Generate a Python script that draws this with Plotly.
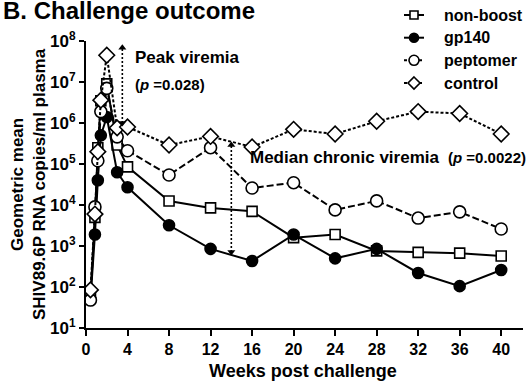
import plotly.graph_objects as go

# Sampling times (weeks post challenge) and geometric mean viral loads
weeks = [0.43, 0.86, 1.14, 1.43, 2, 3, 4, 8, 12, 16, 20, 24, 28, 32, 36, 40]
non_boost = [60, 5000, 2.5e5, 3.5e6, 9e6, 2.9e5, 8.5e4, 1.25e4, 8.5e3, 7e3,
             1.6e3, 1.9e3, 760, 700, 670, 570]
gp140 = [50, 1900, 4e4, 5e5, 1.4e6, 6.3e4, 2.7e4, 3.2e3, 850, 430,
         1.9e3, 500, 850, 220, 105, 260]
peptomer = [48, 9000, 1.2e5, 1.9e6, 7e6, 4.6e5, 2.1e5, 5.4e4, 2.5e5, 2.6e4,
            3.5e4, 7.6e3, 1.26e4, 4.8e3, 6.8e3, 2.6e3]
control = [85, 6000, 2e5, 3.6e6, 4.5e7, 7.6e5, 8e5, 2.9e5, 4.7e5, 2.6e5,
           7e5, 5.4e5, 1.1e6, 1.9e6, 1.7e6, 5.4e5]

x_ticks = [0, 4, 8, 12, 16, 20, 24, 28, 32, 36, 40]
y_exponents = [1, 2, 3, 4, 5, 6, 7, 8]

# Double-headed comparison arrows (week, [bottom, top] viral load)
peak_arrow_week = 3.5
peak_arrow_span = [1.0e6, 6.8e7]
chronic_arrow_week = 14
chronic_arrow_span = [7.1e2, 2.9e5]

FONT = "Liberation Sans, Arial, sans-serif"
W, H = 528, 384
ML, MR, MT, MB = 86, 5, 41, 56
PW, PH = W - ML - MR, H - MT - MB


def px2x(px):
    return (px - ML) / PW


def px2y(py):
    return (H - MB - py) / PH


fig = go.Figure()

series = [
    ("non-boost", non_boost, "square", "white", "solid", 10),
    ("gp140", gp140, "circle", "black", "solid", 11),
    ("peptomer", peptomer, "circle", "white", "7px,3px", 12),
    ("control", control, "diamond", "white", "3px,2px", 12),
]
for name, vals, sym, fill, dash, size in series:
    fig.add_trace(go.Scatter(
        x=weeks, y=vals, name=name, mode="lines+markers", showlegend=False,
        line=dict(color="black", width=2, dash=dash),
        marker=dict(symbol=sym, size=size, color=fill,
                    line=dict(color="black", width=1.6)),
    ))

for wk, span in [(peak_arrow_week, peak_arrow_span),
                 (chronic_arrow_week, chronic_arrow_span)]:
    fig.add_trace(go.Scatter(
        x=[wk, wk], y=span, mode="lines+markers", showlegend=False,
        hoverinfo="skip",
        line=dict(color="black", width=1.6, dash="2px,2px"),
        marker=dict(symbol=["triangle-down", "triangle-up"], size=7,
                    color="black", line=dict(width=0)),
    ))

bold = dict(family=FONT, color="black")

annotations = [
    dict(text="<b>B. Challenge outcome</b>", xref="paper", yref="paper",
         x=px2x(1), y=1.105, xanchor="left", yanchor="middle",
         showarrow=False, font=dict(size=24, **bold)),
    dict(text="<b>Peak viremia</b>", xref="paper", yref="paper",
         x=px2x(133), y=px2y(57), xanchor="left",
         yanchor="middle", showarrow=False, font=dict(size=17, **bold)),
    dict(text="<b>(<i>p</i> =0.028)</b>", xref="paper", yref="paper",
         x=px2x(133), y=px2y(84), xanchor="left",
         yanchor="middle", showarrow=False, font=dict(size=15, **bold)),
    dict(text="<b>Median chronic viremia</b>", xref="paper", yref="paper",
         x=px2x(248), y=px2y(157), xanchor="left",
         yanchor="middle", showarrow=False, font=dict(size=17, **bold)),
    dict(text="<b>(<i>p</i> =0.0022)</b>", xref="paper", yref="paper",
         x=px2x(446), y=px2y(157), xanchor="left",
         yanchor="middle", showarrow=False, font=dict(size=15, **bold)),
    dict(text="<b>Weeks post challenge</b>", xref="paper", yref="paper",
         x=0.4966, y=-0.15, xanchor="center", yanchor="middle",
         showarrow=False, font=dict(size=18, **bold)),
    dict(text="<b>Geometric mean</b><br><b>SHIV89.6P RNA copies/ml plasma</b>",
         xref="paper", yref="paper", x=px2x(28.5), y=0.5, xanchor="center",
         yanchor="middle", textangle=-90, showarrow=False,
         font=dict(size=17, **bold)),
]

# Key in the top-right corner: a short line stub with the series marker,
# followed by the series name.
shapes = []
key_rows = [15, 37.7, 60.3, 83]
stub_x0, stub_x1, sym_cx, text_x = 404, 424, 414, 442
for (name, _, sym, fill, dash, size), ry in zip(series, key_rows):
    shapes.append(dict(type="line", xref="paper", yref="paper",
                       x0=px2x(stub_x0), x1=px2x(stub_x1),
                       y0=px2y(ry), y1=px2y(ry),
                       line=dict(color="black", width=2,
                                 dash="solid" if dash == "solid" else "3px,2px")))
    r = (size - 2) / 2
    if sym == "square":
        shapes.append(dict(type="rect", xref="paper", yref="paper",
                           x0=px2x(sym_cx - r), x1=px2x(sym_cx + r),
                           y0=px2y(ry + r), y1=px2y(ry - r),
                           fillcolor=fill, line=dict(color="black", width=1.6)))
    elif sym == "circle":
        shapes.append(dict(type="circle", xref="paper", yref="paper",
                           x0=px2x(sym_cx - r), x1=px2x(sym_cx + r),
                           y0=px2y(ry + r), y1=px2y(ry - r),
                           fillcolor=fill, line=dict(color="black", width=1.6)))
    else:
        rr = r + 1
        path = (f"M {px2x(sym_cx)} {px2y(ry - rr)} L {px2x(sym_cx + rr)} {px2y(ry)} "
                f"L {px2x(sym_cx)} {px2y(ry + rr)} L {px2x(sym_cx - rr)} {px2y(ry)} Z")
        shapes.append(dict(type="path", xref="paper", yref="paper", path=path,
                           fillcolor=fill, line=dict(color="black", width=1.6)))
    annotations.append(dict(text=f"<b>{name}</b>", xref="paper", yref="paper",
                            x=px2x(text_x), y=px2y(ry), xanchor="left",
                            yanchor="middle", showarrow=False,
                            font=dict(size=16, **bold)))

fig.update_layout(
    width=W, height=H,
    margin=dict(l=ML, r=MR, t=MT, b=MB),
    paper_bgcolor="white", plot_bgcolor="white",
    font=dict(family=FONT, color="black"),
    showlegend=False,
    annotations=annotations,
    shapes=shapes,
    xaxis=dict(range=[0, 42.1], tickmode="array", tickvals=x_ticks,
               ticktext=[f"<b>{t}</b>" for t in x_ticks],
               showline=True, linecolor="black", linewidth=2,
               ticks="outside", ticklen=6, tickwidth=2, tickcolor="black",
               showgrid=False, zeroline=False,
               tickfont=dict(size=16, **bold)),
    yaxis=dict(type="log", range=[1, 8], tickmode="array",
               tickvals=[10 ** e for e in y_exponents],
               ticktext=[f"<b>10<sup>{e}</sup></b>" for e in y_exponents],
               showline=True, linecolor="black", linewidth=2,
               ticks="outside", ticklen=5, tickwidth=2, tickcolor="black",
               showgrid=False, zeroline=False,
               tickfont=dict(size=17, **bold)),
)

fig.write_html("out.html")
